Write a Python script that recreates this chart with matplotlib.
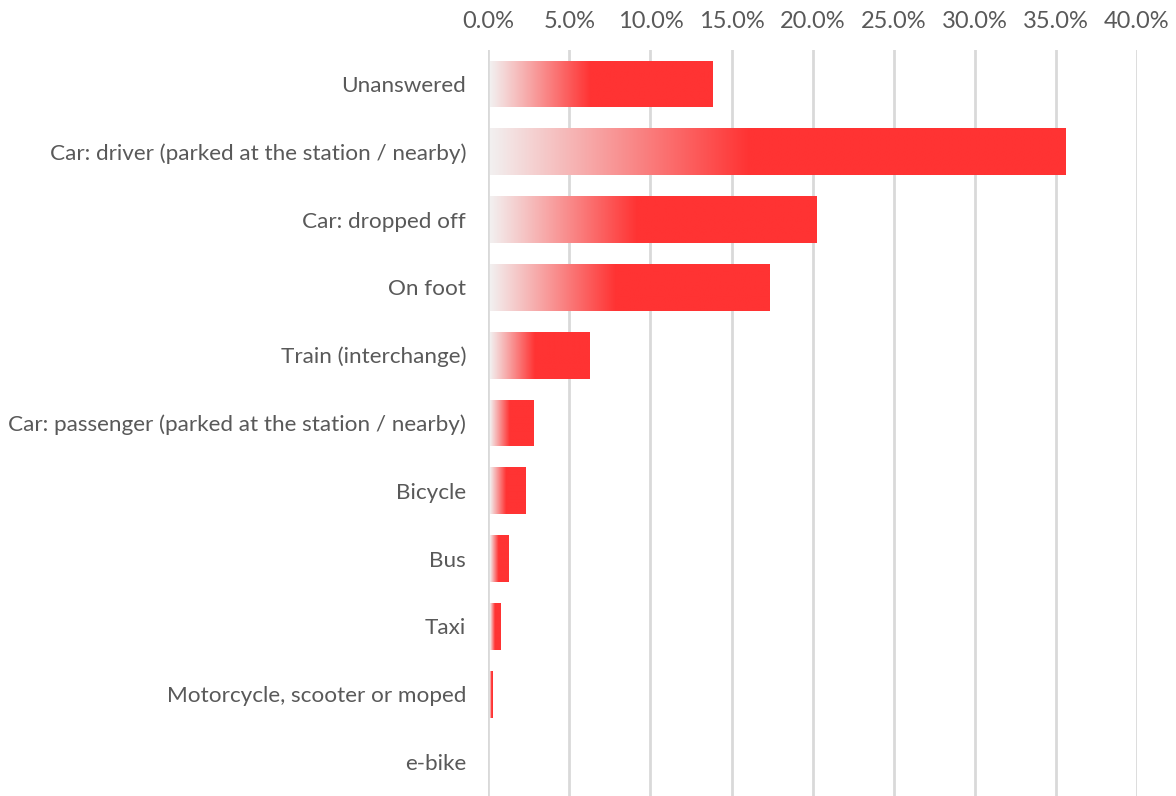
import numpy as np
import matplotlib
matplotlib.use('Agg')
import matplotlib.pyplot as plt
from matplotlib.colors import LinearSegmentedColormap
from matplotlib.ticker import PercentFormatter

# share of respondents by mode of travel to the station (%)
modes = ['Unanswered',
         'Car: driver (parked at the station / nearby)',
         'Car: dropped off',
         'On foot',
         'Train (interchange)',
         'Car: passenger (parked at the station / nearby)',
         'Bicycle',
         'Bus',
         'Taxi',
         'Motorcycle, scooter or moped',
         'e-bike']
share = [13.83, 35.55, 20.2, 17.3, 6.2, 2.76, 2.26, 1.21, 0.72, 0.23, 0.0]
xticks = [0, 5, 10, 15, 20, 25, 30, 35, 40]

plt.rcParams['font.family'] = ['Lato', 'DejaVu Sans']

fig = plt.figure(figsize=(11.76, 7.96), dpi=100)
ax = fig.add_axes([488.3/1176, 0.0, (1137-488.3)/1176, 1 - 50/796])

# light grey -> red over the first ~45% of each bar, solid red after
red = (1.0, 0.2, 0.2)
cmap = LinearSegmentedColormap.from_list(
    'fade', [(0.0, (0.95, 0.94, 0.94)), (0.45, red), (1.0, red)])
grad = np.linspace(0, 1, 256).reshape(1, -1)

h = 0.69
ypos = np.arange(len(modes))
for y, v in zip(ypos, share):
    if v <= 0:
        continue
    bar = ax.barh(y, v, height=h, color='none', edgecolor='none')[0]
    im = ax.imshow(grad, cmap=cmap, aspect='auto', interpolation='bilinear',
                   extent=[0.08, v, y + h/2, y - h/2], zorder=2)
    im.set_clip_path(bar)

ax.set_xlim(0, 40)
ax.set_ylim(len(modes) - 0.5, -0.5)
ax.set_xticks(xticks)
ax.xaxis.set_major_formatter(PercentFormatter(decimals=1))
ax.xaxis.tick_top()
ax.set_yticks(ypos)
ax.set_yticklabels(modes)
ax.tick_params(axis='both', length=0, colors='#595959')
ax.tick_params(axis='x', pad=13, labelsize=17)
ax.tick_params(axis='y', pad=16, labelsize=16.2)
ax.grid(axis='x', color='#d9d9d9', linewidth=2)
ax.set_axisbelow(True)
for s in ax.spines.values():
    s.set_visible(False)

fig.savefig('out.png', dpi=100)
